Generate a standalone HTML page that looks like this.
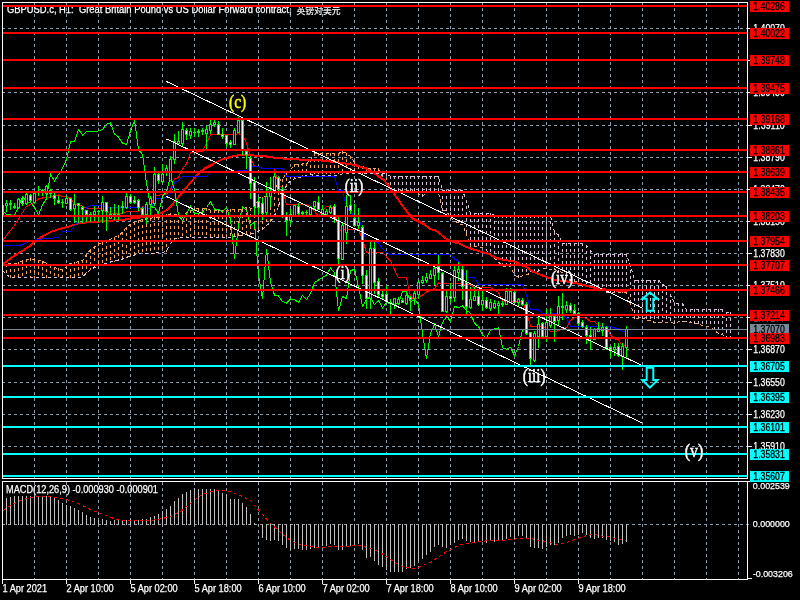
<!DOCTYPE html><html><head><meta charset="utf-8"><style>html,body{margin:0;padding:0;background:#000;width:800px;height:600px;overflow:hidden}svg{display:block}text{white-space:pre;font-family:"Liberation Sans","Noto Sans CJK SC",sans-serif}</style></head><body>
<svg width="800" height="600" viewBox="0 0 800 600">
<rect x="0" y="0" width="800" height="600" fill="#000"/>
<g stroke="#8a9bab" stroke-width="1" stroke-dasharray="3 3" shape-rendering="crispEdges" fill="none">
<line x1="34.5" y1="2" x2="34.5" y2="478"/>
<line x1="34.5" y1="482" x2="34.5" y2="579"/>
<line x1="66.5" y1="2" x2="66.5" y2="478"/>
<line x1="66.5" y1="482" x2="66.5" y2="579"/>
<line x1="98.5" y1="2" x2="98.5" y2="478"/>
<line x1="98.5" y1="482" x2="98.5" y2="579"/>
<line x1="130.5" y1="2" x2="130.5" y2="478"/>
<line x1="130.5" y1="482" x2="130.5" y2="579"/>
<line x1="162.5" y1="2" x2="162.5" y2="478"/>
<line x1="162.5" y1="482" x2="162.5" y2="579"/>
<line x1="194.5" y1="2" x2="194.5" y2="478"/>
<line x1="194.5" y1="482" x2="194.5" y2="579"/>
<line x1="226.5" y1="2" x2="226.5" y2="478"/>
<line x1="226.5" y1="482" x2="226.5" y2="579"/>
<line x1="258.5" y1="2" x2="258.5" y2="478"/>
<line x1="258.5" y1="482" x2="258.5" y2="579"/>
<line x1="290.5" y1="2" x2="290.5" y2="478"/>
<line x1="290.5" y1="482" x2="290.5" y2="579"/>
<line x1="322.5" y1="2" x2="322.5" y2="478"/>
<line x1="322.5" y1="482" x2="322.5" y2="579"/>
<line x1="354.5" y1="2" x2="354.5" y2="478"/>
<line x1="354.5" y1="482" x2="354.5" y2="579"/>
<line x1="386.5" y1="2" x2="386.5" y2="478"/>
<line x1="386.5" y1="482" x2="386.5" y2="579"/>
<line x1="418.5" y1="2" x2="418.5" y2="478"/>
<line x1="418.5" y1="482" x2="418.5" y2="579"/>
<line x1="450.5" y1="2" x2="450.5" y2="478"/>
<line x1="450.5" y1="482" x2="450.5" y2="579"/>
<line x1="482.5" y1="2" x2="482.5" y2="478"/>
<line x1="482.5" y1="482" x2="482.5" y2="579"/>
<line x1="514.5" y1="2" x2="514.5" y2="478"/>
<line x1="514.5" y1="482" x2="514.5" y2="579"/>
<line x1="546.5" y1="2" x2="546.5" y2="478"/>
<line x1="546.5" y1="482" x2="546.5" y2="579"/>
<line x1="578.5" y1="2" x2="578.5" y2="478"/>
<line x1="578.5" y1="482" x2="578.5" y2="579"/>
<line x1="610.5" y1="2" x2="610.5" y2="478"/>
<line x1="610.5" y1="482" x2="610.5" y2="579"/>
<line x1="642.5" y1="2" x2="642.5" y2="478"/>
<line x1="642.5" y1="482" x2="642.5" y2="579"/>
<line x1="674.5" y1="2" x2="674.5" y2="478"/>
<line x1="674.5" y1="482" x2="674.5" y2="579"/>
<line x1="706.5" y1="2" x2="706.5" y2="478"/>
<line x1="706.5" y1="482" x2="706.5" y2="579"/>
<line x1="738.5" y1="2" x2="738.5" y2="478"/>
<line x1="738.5" y1="482" x2="738.5" y2="579"/>
<line x1="2" y1="28.5" x2="751" y2="28.5"/>
<line x1="2" y1="60.5" x2="751" y2="60.5"/>
<line x1="2" y1="92.5" x2="751" y2="92.5"/>
<line x1="2" y1="125.5" x2="751" y2="125.5"/>
<line x1="2" y1="157.5" x2="751" y2="157.5"/>
<line x1="2" y1="189.5" x2="751" y2="189.5"/>
<line x1="2" y1="221.5" x2="751" y2="221.5"/>
<line x1="2" y1="253.5" x2="751" y2="253.5"/>
<line x1="2" y1="285.5" x2="751" y2="285.5"/>
<line x1="2" y1="317.5" x2="751" y2="317.5"/>
<line x1="2" y1="349.5" x2="751" y2="349.5"/>
<line x1="2" y1="382.5" x2="751" y2="382.5"/>
<line x1="2" y1="414.5" x2="751" y2="414.5"/>
<line x1="2" y1="446.5" x2="751" y2="446.5"/>
<line x1="2" y1="524.5" x2="751" y2="524.5"/>
</g>
<!--title under lines-->
<text x="7" y="13" fill="#fff" stroke="#fff" stroke-width="0.25" font-size="10.4px"><tspan textLength="284.5" lengthAdjust="spacingAndGlyphs">GBPUSD.c, H1:  Great Britain Pound vs US Dollar Forward contract,</tspan><tspan x="296.5" y="13.6" font-size="8.8px" stroke-width="0.15" textLength="44" lengthAdjust="spacingAndGlyphs">英镑对美元</tspan></text>
<g shape-rendering="crispEdges" stroke-width="1" stroke-dasharray="3 3" fill="none">
<line x1="2.5" y1="264" x2="2.5" y2="271" stroke="#f4a460"/>
<line x1="6.5" y1="264" x2="6.5" y2="275" stroke="#f4a460"/>
<line x1="10.5" y1="263" x2="10.5" y2="278" stroke="#f4a460"/>
<line x1="14.5" y1="263" x2="14.5" y2="278" stroke="#f4a460"/>
<line x1="18.5" y1="262" x2="18.5" y2="278" stroke="#f4a460"/>
<line x1="22.5" y1="261" x2="22.5" y2="278" stroke="#f4a460"/>
<line x1="26.5" y1="259" x2="26.5" y2="278" stroke="#f4a460"/>
<line x1="30.5" y1="258" x2="30.5" y2="278" stroke="#f4a460"/>
<line x1="34.5" y1="258" x2="34.5" y2="278" stroke="#f4a460"/>
<line x1="38.5" y1="260" x2="38.5" y2="278" stroke="#f4a460"/>
<line x1="42.5" y1="261" x2="42.5" y2="278" stroke="#f4a460"/>
<line x1="46.5" y1="263" x2="46.5" y2="278" stroke="#f4a460"/>
<line x1="50.5" y1="265" x2="50.5" y2="278" stroke="#f4a460"/>
<line x1="54.5" y1="267" x2="54.5" y2="278" stroke="#f4a460"/>
<line x1="58.5" y1="268" x2="58.5" y2="278" stroke="#f4a460"/>
<line x1="62.5" y1="269" x2="62.5" y2="278" stroke="#f4a460"/>
<line x1="66.5" y1="266" x2="66.5" y2="278" stroke="#f4a460"/>
<line x1="70.5" y1="263" x2="70.5" y2="278" stroke="#f4a460"/>
<line x1="74.5" y1="262" x2="74.5" y2="278" stroke="#f4a460"/>
<line x1="78.5" y1="261" x2="78.5" y2="278" stroke="#f4a460"/>
<line x1="82.5" y1="260" x2="82.5" y2="277" stroke="#f4a460"/>
<line x1="86.5" y1="254" x2="86.5" y2="273" stroke="#f4a460"/>
<line x1="90.5" y1="250" x2="90.5" y2="270" stroke="#f4a460"/>
<line x1="94.5" y1="246" x2="94.5" y2="268" stroke="#f4a460"/>
<line x1="98.5" y1="243" x2="98.5" y2="266" stroke="#f4a460"/>
<line x1="102.5" y1="242" x2="102.5" y2="265" stroke="#f4a460"/>
<line x1="106.5" y1="240" x2="106.5" y2="264" stroke="#f4a460"/>
<line x1="110.5" y1="239" x2="110.5" y2="263" stroke="#f4a460"/>
<line x1="114.5" y1="237" x2="114.5" y2="262" stroke="#f4a460"/>
<line x1="118.5" y1="235" x2="118.5" y2="261" stroke="#f4a460"/>
<line x1="122.5" y1="232" x2="122.5" y2="259" stroke="#f4a460"/>
<line x1="126.5" y1="227" x2="126.5" y2="258" stroke="#f4a460"/>
<line x1="130.5" y1="224" x2="130.5" y2="256" stroke="#f4a460"/>
<line x1="134.5" y1="222" x2="134.5" y2="256" stroke="#f4a460"/>
<line x1="138.5" y1="220" x2="138.5" y2="255" stroke="#f4a460"/>
<line x1="142.5" y1="219" x2="142.5" y2="254" stroke="#f4a460"/>
<line x1="146.5" y1="218" x2="146.5" y2="254" stroke="#f4a460"/>
<line x1="150.5" y1="218" x2="150.5" y2="254" stroke="#f4a460"/>
<line x1="154.5" y1="217" x2="154.5" y2="254" stroke="#f4a460"/>
<line x1="158.5" y1="217" x2="158.5" y2="253" stroke="#f4a460"/>
<line x1="162.5" y1="216" x2="162.5" y2="253" stroke="#f4a460"/>
<line x1="166.5" y1="214" x2="166.5" y2="252" stroke="#f4a460"/>
<line x1="170.5" y1="214" x2="170.5" y2="244" stroke="#f4a460"/>
<line x1="174.5" y1="214" x2="174.5" y2="240" stroke="#f4a460"/>
<line x1="178.5" y1="214" x2="178.5" y2="239" stroke="#f4a460"/>
<line x1="182.5" y1="215" x2="182.5" y2="238" stroke="#f4a460"/>
<line x1="186.5" y1="212" x2="186.5" y2="238" stroke="#f4a460"/>
<line x1="190.5" y1="210" x2="190.5" y2="238" stroke="#f4a460"/>
<line x1="194.5" y1="208" x2="194.5" y2="238" stroke="#f4a460"/>
<line x1="198.5" y1="208" x2="198.5" y2="238" stroke="#f4a460"/>
<line x1="202.5" y1="208" x2="202.5" y2="238" stroke="#f4a460"/>
<line x1="206.5" y1="208" x2="206.5" y2="238" stroke="#f4a460"/>
<line x1="210.5" y1="210" x2="210.5" y2="238" stroke="#f4a460"/>
<line x1="214.5" y1="210" x2="214.5" y2="238" stroke="#f4a460"/>
<line x1="218.5" y1="210" x2="218.5" y2="238" stroke="#f4a460"/>
<line x1="222.5" y1="210" x2="222.5" y2="238" stroke="#f4a460"/>
<line x1="226.5" y1="210" x2="226.5" y2="238" stroke="#f4a460"/>
<line x1="230.5" y1="209" x2="230.5" y2="238" stroke="#f4a460"/>
<line x1="234.5" y1="209" x2="234.5" y2="237" stroke="#f4a460"/>
<line x1="238.5" y1="209" x2="238.5" y2="237" stroke="#f4a460"/>
<line x1="242.5" y1="209" x2="242.5" y2="236" stroke="#f4a460"/>
<line x1="246.5" y1="207" x2="246.5" y2="235" stroke="#f4a460"/>
<line x1="250.5" y1="208" x2="250.5" y2="235" stroke="#f4a460"/>
<line x1="254.5" y1="209" x2="254.5" y2="233" stroke="#f4a460"/>
<line x1="258.5" y1="197" x2="258.5" y2="231" stroke="#f4a460"/>
<line x1="262.5" y1="197" x2="262.5" y2="229" stroke="#f4a460"/>
<line x1="266.5" y1="195" x2="266.5" y2="226" stroke="#f4a460"/>
<line x1="270.5" y1="195" x2="270.5" y2="223" stroke="#f4a460"/>
<line x1="274.5" y1="191" x2="274.5" y2="216" stroke="#f4a460"/>
<line x1="278.5" y1="180" x2="278.5" y2="208" stroke="#f4a460"/>
<line x1="282.5" y1="179" x2="282.5" y2="194" stroke="#f4a460"/>
<line x1="286.5" y1="172" x2="286.5" y2="186" stroke="#f4a460"/>
<line x1="290.5" y1="170" x2="290.5" y2="181" stroke="#f4a460"/>
<line x1="294.5" y1="164" x2="294.5" y2="179" stroke="#f4a460"/>
<line x1="298.5" y1="164" x2="298.5" y2="178" stroke="#f4a460"/>
<line x1="302.5" y1="163" x2="302.5" y2="177" stroke="#f4a460"/>
<line x1="306.5" y1="163" x2="306.5" y2="176" stroke="#f4a460"/>
<line x1="310.5" y1="159" x2="310.5" y2="175" stroke="#f4a460"/>
<line x1="314.5" y1="153" x2="314.5" y2="176" stroke="#f4a460"/>
<line x1="318.5" y1="153" x2="318.5" y2="176" stroke="#f4a460"/>
<line x1="322.5" y1="153" x2="322.5" y2="176" stroke="#f4a460"/>
<line x1="326.5" y1="153" x2="326.5" y2="176" stroke="#f4a460"/>
<line x1="330.5" y1="153" x2="330.5" y2="176" stroke="#f4a460"/>
<line x1="334.5" y1="153" x2="334.5" y2="176" stroke="#f4a460"/>
<line x1="338.5" y1="153" x2="338.5" y2="176" stroke="#f4a460"/>
<line x1="342.5" y1="151" x2="342.5" y2="174" stroke="#f4a460"/>
<line x1="346.5" y1="153" x2="346.5" y2="174" stroke="#f4a460"/>
<line x1="350.5" y1="156" x2="350.5" y2="174" stroke="#f4a460"/>
<line x1="354.5" y1="162" x2="354.5" y2="174" stroke="#f4a460"/>
<line x1="358.5" y1="166" x2="358.5" y2="174" stroke="#f4a460"/>
<line x1="362.5" y1="166" x2="362.5" y2="174" stroke="#f4a460"/>
<line x1="366.5" y1="168" x2="366.5" y2="174" stroke="#f4a460"/>
<line x1="370.5" y1="168" x2="370.5" y2="174" stroke="#f4a460"/>
<line x1="374.5" y1="168" x2="374.5" y2="174" stroke="#f4a460"/>
<line x1="378.5" y1="168" x2="378.5" y2="174" stroke="#f4a460"/>
<line x1="382.5" y1="173" x2="382.5" y2="177" stroke="#d8bfd8"/>
<line x1="386.5" y1="173" x2="386.5" y2="179" stroke="#d8bfd8"/>
<line x1="390.5" y1="176" x2="390.5" y2="191" stroke="#d8bfd8"/>
<line x1="394.5" y1="176" x2="394.5" y2="191" stroke="#d8bfd8"/>
<line x1="398.5" y1="176" x2="398.5" y2="191" stroke="#d8bfd8"/>
<line x1="402.5" y1="176" x2="402.5" y2="191" stroke="#d8bfd8"/>
<line x1="406.5" y1="176" x2="406.5" y2="191" stroke="#d8bfd8"/>
<line x1="410.5" y1="176" x2="410.5" y2="191" stroke="#d8bfd8"/>
<line x1="414.5" y1="176" x2="414.5" y2="192" stroke="#d8bfd8"/>
<line x1="418.5" y1="176" x2="418.5" y2="195" stroke="#d8bfd8"/>
<line x1="422.5" y1="176" x2="422.5" y2="197" stroke="#d8bfd8"/>
<line x1="426.5" y1="176" x2="426.5" y2="194" stroke="#d8bfd8"/>
<line x1="430.5" y1="176" x2="430.5" y2="192" stroke="#d8bfd8"/>
<line x1="434.5" y1="176" x2="434.5" y2="192" stroke="#d8bfd8"/>
<line x1="438.5" y1="176" x2="438.5" y2="193" stroke="#d8bfd8"/>
<line x1="442.5" y1="190" x2="442.5" y2="211" stroke="#d8bfd8"/>
<line x1="446.5" y1="190" x2="446.5" y2="211" stroke="#d8bfd8"/>
<line x1="450.5" y1="190" x2="450.5" y2="219" stroke="#d8bfd8"/>
<line x1="454.5" y1="190" x2="454.5" y2="220" stroke="#d8bfd8"/>
<line x1="458.5" y1="190" x2="458.5" y2="225" stroke="#d8bfd8"/>
<line x1="462.5" y1="190" x2="462.5" y2="225" stroke="#d8bfd8"/>
<line x1="466.5" y1="200" x2="466.5" y2="235" stroke="#d8bfd8"/>
<line x1="470.5" y1="213" x2="470.5" y2="247" stroke="#d8bfd8"/>
<line x1="474.5" y1="213" x2="474.5" y2="247" stroke="#d8bfd8"/>
<line x1="478.5" y1="213" x2="478.5" y2="247" stroke="#d8bfd8"/>
<line x1="482.5" y1="213" x2="482.5" y2="248" stroke="#d8bfd8"/>
<line x1="486.5" y1="213" x2="486.5" y2="251" stroke="#d8bfd8"/>
<line x1="490.5" y1="213" x2="490.5" y2="255" stroke="#d8bfd8"/>
<line x1="494.5" y1="215" x2="494.5" y2="258" stroke="#d8bfd8"/>
<line x1="498.5" y1="215" x2="498.5" y2="263" stroke="#d8bfd8"/>
<line x1="502.5" y1="215" x2="502.5" y2="267" stroke="#d8bfd8"/>
<line x1="506.5" y1="215" x2="506.5" y2="267" stroke="#d8bfd8"/>
<line x1="510.5" y1="215" x2="510.5" y2="267" stroke="#d8bfd8"/>
<line x1="514.5" y1="215" x2="514.5" y2="276" stroke="#d8bfd8"/>
<line x1="518.5" y1="215" x2="518.5" y2="278" stroke="#d8bfd8"/>
<line x1="522.5" y1="215" x2="522.5" y2="276" stroke="#d8bfd8"/>
<line x1="526.5" y1="215" x2="526.5" y2="275" stroke="#d8bfd8"/>
<line x1="530.5" y1="215" x2="530.5" y2="274" stroke="#d8bfd8"/>
<line x1="534.5" y1="215" x2="534.5" y2="273" stroke="#d8bfd8"/>
<line x1="538.5" y1="215" x2="538.5" y2="272" stroke="#d8bfd8"/>
<line x1="542.5" y1="215" x2="542.5" y2="269" stroke="#d8bfd8"/>
<line x1="546.5" y1="215" x2="546.5" y2="269" stroke="#d8bfd8"/>
<line x1="550.5" y1="215" x2="550.5" y2="270" stroke="#d8bfd8"/>
<line x1="554.5" y1="232" x2="554.5" y2="270" stroke="#d8bfd8"/>
<line x1="558.5" y1="234" x2="558.5" y2="272" stroke="#d8bfd8"/>
<line x1="562.5" y1="243" x2="562.5" y2="273" stroke="#d8bfd8"/>
<line x1="566.5" y1="243" x2="566.5" y2="277" stroke="#d8bfd8"/>
<line x1="570.5" y1="243" x2="570.5" y2="282" stroke="#d8bfd8"/>
<line x1="574.5" y1="243" x2="574.5" y2="282" stroke="#d8bfd8"/>
<line x1="578.5" y1="243" x2="578.5" y2="283" stroke="#d8bfd8"/>
<line x1="582.5" y1="243" x2="582.5" y2="287" stroke="#d8bfd8"/>
<line x1="586.5" y1="245" x2="586.5" y2="287" stroke="#d8bfd8"/>
<line x1="590.5" y1="250" x2="590.5" y2="287" stroke="#d8bfd8"/>
<line x1="594.5" y1="254" x2="594.5" y2="287" stroke="#d8bfd8"/>
<line x1="598.5" y1="254" x2="598.5" y2="288" stroke="#d8bfd8"/>
<line x1="602.5" y1="254" x2="602.5" y2="289" stroke="#d8bfd8"/>
<line x1="606.5" y1="254" x2="606.5" y2="293" stroke="#d8bfd8"/>
<line x1="610.5" y1="254" x2="610.5" y2="293" stroke="#d8bfd8"/>
<line x1="614.5" y1="254" x2="614.5" y2="293" stroke="#d8bfd8"/>
<line x1="618.5" y1="254" x2="618.5" y2="293" stroke="#d8bfd8"/>
<line x1="622.5" y1="254" x2="622.5" y2="293" stroke="#d8bfd8"/>
<line x1="626.5" y1="254" x2="626.5" y2="293" stroke="#d8bfd8"/>
<line x1="630.5" y1="264" x2="630.5" y2="304" stroke="#d8bfd8"/>
<line x1="634.5" y1="280" x2="634.5" y2="319" stroke="#d8bfd8"/>
<line x1="638.5" y1="280" x2="638.5" y2="319" stroke="#d8bfd8"/>
<line x1="642.5" y1="280" x2="642.5" y2="319" stroke="#d8bfd8"/>
<line x1="646.5" y1="280" x2="646.5" y2="320" stroke="#d8bfd8"/>
<line x1="650.5" y1="280" x2="650.5" y2="321" stroke="#d8bfd8"/>
<line x1="654.5" y1="280" x2="654.5" y2="323" stroke="#d8bfd8"/>
<line x1="658.5" y1="280" x2="658.5" y2="323" stroke="#d8bfd8"/>
<line x1="662.5" y1="284" x2="662.5" y2="322" stroke="#d8bfd8"/>
<line x1="666.5" y1="286" x2="666.5" y2="323" stroke="#d8bfd8"/>
<line x1="670.5" y1="294" x2="670.5" y2="323" stroke="#d8bfd8"/>
<line x1="674.5" y1="303" x2="674.5" y2="324" stroke="#d8bfd8"/>
<line x1="678.5" y1="303" x2="678.5" y2="322" stroke="#d8bfd8"/>
<line x1="682.5" y1="303" x2="682.5" y2="322" stroke="#d8bfd8"/>
<line x1="686.5" y1="309" x2="686.5" y2="322" stroke="#d8bfd8"/>
<line x1="690.5" y1="309" x2="690.5" y2="323" stroke="#d8bfd8"/>
<line x1="694.5" y1="309" x2="694.5" y2="324" stroke="#d8bfd8"/>
<line x1="698.5" y1="309" x2="698.5" y2="324" stroke="#d8bfd8"/>
<line x1="702.5" y1="309" x2="702.5" y2="326" stroke="#d8bfd8"/>
<line x1="706.5" y1="309" x2="706.5" y2="327" stroke="#d8bfd8"/>
<line x1="710.5" y1="309" x2="710.5" y2="327" stroke="#d8bfd8"/>
<line x1="714.5" y1="309" x2="714.5" y2="331" stroke="#d8bfd8"/>
<line x1="718.5" y1="309" x2="718.5" y2="334" stroke="#d8bfd8"/>
<line x1="722.5" y1="309" x2="722.5" y2="335" stroke="#d8bfd8"/>
<line x1="726.5" y1="312" x2="726.5" y2="339" stroke="#d8bfd8"/>
<line x1="730.5" y1="312" x2="730.5" y2="339" stroke="#d8bfd8"/>
</g>
<polyline points="2.5,264.5 6.5,264.1 10.5,263.8 14.5,263.6 18.5,262.5 22.5,261.0 26.5,259.6 30.5,259.0 34.5,259.0 38.5,260.2 42.5,261.6 46.5,263.3 50.5,265.9 54.5,267.6 58.5,268.8 62.5,269.4 66.5,266.5 70.5,263.3 74.5,262.5 78.5,261.6 82.5,260.6 86.5,254.0 90.5,250.0 94.5,246.6 98.5,243.9 102.5,242.1 106.5,240.6 110.5,239.1 114.5,237.2 118.5,235.7 122.5,232.3 126.5,227.4 130.5,224.2 134.5,222.2 138.5,220.7 142.5,219.6 146.5,218.8 150.5,218.2 154.5,217.8 158.5,217.3 162.5,216.2 166.5,214.5 170.5,214.0 174.5,214.5 178.5,215.0 182.5,215.5 186.5,213.0 190.5,210.7 194.5,208.7 198.5,208.7 202.5,208.7 206.5,208.7 210.5,210.1 214.5,210.6 218.5,210.6 222.5,210.6 226.5,210.6 230.5,209.9 234.5,209.9 238.5,209.9 242.5,209.9 246.5,207.2 250.5,208.2 254.5,209.2 258.5,197.2 262.5,197.2 266.5,195.7 270.5,195.7 274.5,191.7 278.5,180.7 282.5,179.3 286.5,172.7 290.5,170.2 294.5,164.7 298.5,164.4 302.5,163.9 306.5,163.9 310.5,159.6 314.5,153.6 318.5,153.4 322.5,153.4 326.5,153.4 330.5,153.4 334.5,153.4 338.5,153.4 342.5,151.9 346.5,153.2 350.5,156.6 354.5,162.2 358.5,166.5 362.5,166.5 366.5,168.5 370.5,168.5 374.5,168.5 378.5,168.6 382.5,176.9 386.5,178.2 390.5,190.6 394.5,190.6 398.5,190.6 402.5,190.6 406.5,190.6 410.5,190.6 414.5,191.4 418.5,194.1 422.5,196.2 426.5,193.4 430.5,191.5 434.5,191.5 438.5,192.9 442.5,210.4 446.5,210.5 450.5,218.6 454.5,219.9 458.5,224.2 462.5,224.2 466.5,234.2 470.5,246.8 474.5,246.8 478.5,246.8 482.5,247.6 486.5,250.3 490.5,254.5 494.5,257.8 498.5,262.0 502.5,266.2 506.5,266.2 510.5,266.2 514.5,275.1 518.5,277.4 522.5,275.8 526.5,274.8 530.5,273.2 534.5,272.5 538.5,271.5 542.5,268.7 546.5,268.9 550.5,269.2 554.5,269.2 558.5,271.4 562.5,272.5 566.5,276.7 570.5,281.1 574.5,281.1 578.5,282.9 582.5,286.1 586.5,286.1 590.5,286.1 594.5,286.1 598.5,287.1 602.5,288.6 606.5,292.8 610.5,292.8 614.5,292.9 618.5,292.9 622.5,292.9 626.5,292.9 630.5,303.1 634.5,318.1 638.5,318.1 642.5,318.1 646.5,319.8 650.5,320.7 654.5,322.4 658.5,322.6 662.5,321.9 666.5,322.2 670.5,322.7 674.5,323.2 678.5,321.9 682.5,321.9 686.5,321.9 690.5,322.3 694.5,323.8 698.5,323.8 702.5,325.9 706.5,326.4 710.5,326.6 714.5,330.6 718.5,333.4 722.5,334.4 726.5,338.6 730.5,338.6" fill="none" stroke="#f4a460" stroke-width="1" stroke-dasharray="3 3" shape-rendering="crispEdges"/>
<polyline points="2.5,270.5 6.5,274.8 10.5,277.1 14.5,277.2 18.5,277.3 22.5,277.5 26.5,277.6 30.5,277.7 34.5,277.7 38.5,277.7 42.5,277.7 46.5,277.7 50.5,277.7 54.5,277.7 58.5,277.7 62.5,277.7 66.5,277.7 70.5,277.7 74.5,277.7 78.5,277.7 82.5,276.7 86.5,273.0 90.5,269.5 94.5,267.5 98.5,265.8 102.5,264.5 106.5,263.2 110.5,262.0 114.5,261.2 118.5,260.1 122.5,259.0 126.5,257.4 130.5,255.9 134.5,255.0 138.5,254.1 142.5,253.6 146.5,253.4 150.5,253.2 154.5,253.0 158.5,252.8 162.5,252.5 166.5,251.1 170.5,243.5 174.5,239.2 178.5,238.2 182.5,237.2 186.5,237.2 190.5,237.2 194.5,237.3 198.5,237.3 202.5,237.3 206.5,237.3 210.5,237.4 214.5,237.4 218.5,237.4 222.5,237.4 226.5,237.5 230.5,237.5 234.5,236.8 238.5,236.1 242.5,235.4 246.5,234.7 250.5,234.0 254.5,233.0 258.5,231.0 262.5,229.0 266.5,225.7 270.5,222.1 274.5,215.6 278.5,207.2 282.5,193.8 286.5,185.5 290.5,180.8 294.5,178.6 298.5,177.7 302.5,176.7 306.5,175.6 310.5,174.5 314.5,175.5 318.5,175.3 322.5,175.3 326.5,175.3 330.5,175.3 334.5,175.3 338.5,175.3 342.5,173.8 346.5,173.8 350.5,173.8 354.5,173.8 358.5,173.8 362.5,173.8 366.5,173.8 370.5,173.8 374.5,173.8 378.5,173.8 382.5,173.8 386.5,173.8 390.5,176.5 394.5,176.5 398.5,176.5 402.5,176.5 406.5,176.5 410.5,176.5 414.5,176.5 418.5,176.5 422.5,176.5 426.5,176.5 430.5,176.5 434.5,176.5 438.5,176.5 442.5,190.7 446.5,190.7 450.5,190.7 454.5,190.7 458.5,190.7 462.5,190.7 466.5,200.7 470.5,213.2 474.5,213.2 478.5,213.2 482.5,213.2 486.5,213.2 490.5,213.2 494.5,215.5 498.5,215.5 502.5,215.5 506.5,215.5 510.5,215.5 514.5,215.5 518.5,215.5 522.5,215.5 526.5,215.5 530.5,215.5 534.5,215.5 538.5,215.5 542.5,215.5 546.5,215.5 550.5,215.8 554.5,232.4 558.5,235.0 562.5,243.7 566.5,243.7 570.5,243.7 574.5,243.7 578.5,243.7 582.5,243.7 586.5,245.2 590.5,250.7 594.5,254.5 598.5,254.5 602.5,254.8 606.5,254.8 610.5,254.8 614.5,254.8 618.5,254.8 622.5,254.8 626.5,254.8 630.5,265.0 634.5,280.0 638.5,280.0 642.5,280.0 646.5,280.0 650.5,280.0 654.5,280.0 658.5,280.0 662.5,284.5 666.5,286.6 670.5,295.0 674.5,303.4 678.5,303.4 682.5,303.4 686.5,309.9 690.5,309.9 694.5,309.9 698.5,309.9 702.5,309.9 706.5,309.9 710.5,309.9 714.5,309.9 718.5,309.9 722.5,309.9 726.5,312.2 730.5,312.2" fill="none" stroke="#d8bfd8" stroke-width="1" stroke-dasharray="3 3" shape-rendering="crispEdges"/>
<polyline points="3.5,263.5 13.0,256.5 23.0,250.5 30.5,245.5 36.5,239.9 44.2,235.5 53.0,231.1 63.0,228.0 70.5,226.1 78.0,223.5 85.5,222.4 98.8,222.2 100.5,221.3 107.2,220.9 124.5,219.7 130.5,218.5 140.5,217.5 150.5,216.5 156.5,215.0 162.5,212.5 167.5,209.5 171.5,205.5 175.5,200.5 180.5,194.5 185.5,188.5 190.5,182.5 195.5,176.5 200.5,171.5 205.5,168.0 210.5,165.5 215.0,163.0 223.1,159.1 232.2,156.4 240.5,155.0 252.2,155.3 255.5,155.8 266.3,156.4 268.5,157.1 283.2,158.5 291.2,159.2 307.2,159.8 320.5,160.5 330.5,161.5 350.5,164.2 356.5,165.5 366.5,168.5 374.5,173.5 384.5,180.5 394.5,194.5 404.5,208.5 412.5,218.5 424.5,224.5 430.5,229.2 435.5,230.5 440.5,234.2 446.8,239.2 453.0,241.8 459.2,243.5 464.2,246.1 470.5,248.5 476.8,250.5 483.0,252.5 489.2,254.2 495.5,257.5 500.5,259.2 508.0,260.5 515.5,261.8 520.5,264.8 526.5,267.0 532.5,271.5 540.0,274.5 547.5,277.5 555.0,279.8 565.5,281.2 573.0,282.8 580.5,284.2 586.5,285.8 595.5,288.0 604.5,289.5 612.0,290.2 627.5,291.5" fill="none" stroke="#ff0000" stroke-width="2" shape-rendering="crispEdges"/>
<polyline points="2.5,240.5 6.5,235.5 10.5,230.5 14.5,225.2 18.5,219.2 22.5,212.5 26.5,206.5 30.5,204.5 34.5,202.0 38.5,199.0 42.5,198.0 46.5,197.0 50.5,197.0 54.5,195.5 58.5,195.0 62.5,196.5 66.5,196.5 70.5,198.0 74.5,204.2 78.5,204.2 82.5,206.2 86.5,208.2 90.5,208.8 94.5,208.8 98.5,208.8 102.5,208.8 106.5,212.3 110.5,213.3 114.5,213.3 118.5,213.3 122.5,213.3 126.5,211.9 130.5,211.9 134.5,211.9 138.5,211.9 142.5,206.5 146.5,208.7 150.5,208.7 154.5,195.5 158.5,195.5 162.5,194.0 166.5,194.0 170.5,190.0 174.5,179.0 178.5,177.6 182.5,169.0 186.5,164.0 190.5,153.0 194.5,152.5 198.5,151.5 202.5,151.5 206.5,142.8 210.5,135.0 214.5,134.8 218.5,134.8 222.5,134.8 226.5,134.8 230.5,134.8 234.5,134.8 238.5,133.3 242.5,136.0 246.5,142.8 250.5,158.0 254.5,166.5 258.5,166.5 262.5,168.5 266.5,168.5 270.5,168.5 274.5,168.8 278.5,185.4 282.5,188.0 286.5,204.7 290.5,204.7 294.5,204.7 298.5,204.7 302.5,204.7 306.5,204.7 310.5,206.2 314.5,211.7 318.5,216.0 322.5,210.4 326.5,206.5 330.5,206.5 334.5,209.3 338.5,230.2 342.5,230.2 346.5,229.7 350.5,229.7 354.5,229.7 358.5,229.7 362.5,239.7 366.5,252.2 370.5,252.2 374.5,252.2 378.5,252.2 382.5,252.2 386.5,256.8 390.5,261.1 394.5,269.5 398.5,277.9 402.5,277.9 406.5,277.9 410.5,295.8 414.5,300.2 418.5,297.0 422.5,295.0 426.5,292.0 430.5,290.5 434.5,288.5 438.5,282.9 442.5,283.4 446.5,283.9 450.5,283.9 454.5,283.9 458.5,283.9 462.5,283.9 466.5,284.4 470.5,284.4 474.5,287.9 478.5,287.9 482.5,287.9 486.5,287.9 490.5,287.9 494.5,289.9 498.5,292.5 502.5,301.0 506.5,301.0 510.5,301.1 514.5,301.1 518.5,301.1 522.5,301.1 526.5,311.2 530.5,326.2 534.5,326.2 538.5,326.2 542.5,326.2 546.5,328.0 550.5,331.5 554.5,331.8 558.5,330.5 562.5,329.0 566.5,327.6 570.5,320.4 574.5,317.6 578.5,317.6 582.5,317.6 586.5,318.4 590.5,321.4 594.5,321.4 598.5,325.5 602.5,326.5 606.5,326.9 610.5,334.9 614.5,338.9 618.5,339.9 622.5,345.9 626.5,345.9" fill="none" stroke="#ff0000" stroke-width="1" shape-rendering="crispEdges"/>
<polyline points="2.5,245.5 6.5,245.5 10.5,245.5 14.5,245.5 18.5,245.5 22.5,244.5 26.5,242.5 30.5,241.3 34.5,240.1 38.5,239.3 42.5,239.0 46.5,238.6 50.5,238.2 54.5,237.9 58.5,237.5 62.5,231.5 66.5,231.5 70.5,231.5 74.5,225.5 78.5,220.7 82.5,216.6 86.5,207.7 90.5,205.1 94.5,205.1 98.5,205.1 102.5,205.2 106.5,207.8 110.5,207.8 114.5,207.8 118.5,207.8 122.5,207.8 126.5,207.8 130.5,207.8 134.5,207.8 138.5,207.8 142.5,207.8 146.5,207.8 150.5,209.8 154.5,198.8 158.5,198.8 162.5,197.3 166.5,197.3 170.5,193.3 174.5,182.3 178.5,180.9 182.5,176.3 186.5,176.3 190.5,176.3 194.5,176.3 198.5,176.3 202.5,176.3 206.5,176.3 210.5,172.2 214.5,172.0 218.5,172.0 222.5,172.0 226.5,172.0 230.5,172.0 234.5,172.0 238.5,170.5 242.5,170.5 246.5,170.5 250.5,166.5 254.5,166.5 258.5,166.5 262.5,168.5 266.5,168.5 270.5,168.5 274.5,168.5 278.5,168.5 282.5,168.5 286.5,176.5 290.5,176.5 294.5,176.5 298.5,176.5 302.5,176.5 306.5,176.5 310.5,176.5 314.5,176.5 318.5,176.5 322.5,176.5 326.5,176.5 330.5,176.5 334.5,176.5 338.5,190.7 342.5,190.9 346.5,207.6 350.5,210.2 354.5,218.8 358.5,218.8 362.5,228.8 366.5,241.4 370.5,241.4 374.5,241.4 378.5,243.0 382.5,248.4 386.5,252.2 390.5,254.5 394.5,254.5 398.5,254.5 402.5,254.5 406.5,254.5 410.5,254.5 414.5,254.5 418.5,254.5 422.5,254.5 426.5,254.5 430.5,254.5 434.5,254.5 438.5,254.5 442.5,254.5 446.5,254.5 450.5,254.5 454.5,259.0 458.5,261.1 462.5,269.5 466.5,277.9 470.5,277.9 474.5,277.9 478.5,284.4 482.5,284.4 486.5,284.4 490.5,284.4 494.5,284.4 498.5,284.6 502.5,284.6 506.5,284.6 510.5,284.6 514.5,284.6 518.5,284.6 522.5,284.6 526.5,294.9 530.5,309.9 534.5,309.9 538.5,309.9 542.5,313.4 546.5,313.4 550.5,313.4 554.5,313.4 558.5,313.4 562.5,315.4 566.5,317.7 570.5,326.1 574.5,326.1 578.5,326.2 582.5,326.2 586.5,326.2 590.5,326.2 594.5,326.2 598.5,326.2 602.5,326.2 606.5,326.2 610.5,326.2 614.5,328.0 618.5,329.0 622.5,331.4 626.5,331.4" fill="none" stroke="#0000ff" stroke-width="1" shape-rendering="crispEdges"/>
<polyline points="2.5,211.3 6.5,214.2 10.5,215.0 14.5,215.0 18.5,206.5 22.5,196.5 26.5,202.0 30.5,202.0 34.5,207.5 38.5,215.0 42.5,205.0 46.5,198.5 50.5,174.0 54.5,181.0 58.5,174.5 62.5,168.5 66.5,159.5 70.5,141.5 74.5,141.5 78.5,129.5 82.5,135.0 86.5,131.8 90.5,132.0 94.5,131.5 98.5,131.0 102.5,129.5 106.5,124.2 110.5,123.0 114.5,134.2 118.5,136.9 122.5,143.4 126.5,144.5 130.5,130.9 134.5,120.5 138.5,149.5 142.5,154.5 146.5,183.5 150.5,206.5 154.5,207.5 158.5,213.2 162.5,196.5 166.5,191.5 170.5,176.5 174.5,189.5 178.5,215.5 182.5,220.5 186.5,214.2 190.5,205.9 194.5,213.5 198.5,213.5 202.5,212.0 206.5,207.5 210.5,201.5 214.5,209.2 218.5,209.5 222.5,211.5 226.5,207.5 230.5,218.8 234.5,258.8 238.5,225.5 242.5,206.3 246.5,210.5 250.5,225.5 254.5,222.2 258.5,275.5 262.5,298.5 266.5,248.8 270.5,282.0 274.5,295.0 278.5,296.0 282.5,301.5 286.5,303.0 290.5,299.0 294.5,299.5 298.5,302.5 302.5,295.5 306.5,299.5 310.5,293.5 314.5,282.5 318.5,280.0 322.5,277.5 326.5,275.0 330.5,268.0 334.5,272.5 338.5,311.2 342.5,296.5 346.5,298.5 350.5,270.9 354.5,269.2 358.5,286.7 362.5,306.5 366.5,299.5 370.5,296.5 374.5,304.8 378.5,300.7 382.5,307.7 386.5,302.5 390.5,303.5 394.5,303.5 398.5,304.0 402.5,291.5 406.5,291.5 410.5,302.0 414.5,299.5 418.5,304.3 422.5,333.8 426.5,358.5 430.5,333.2 434.5,324.5 438.5,336.5 442.5,322.5 446.5,316.5 450.5,321.2 454.5,306.5 458.5,307.5 462.5,305.8 466.5,310.5 470.5,313.2 474.5,323.2 478.5,326.5 482.5,335.2 486.5,337.8 490.5,329.8 494.5,329.0 498.5,327.8 502.5,347.8 506.5,349.2 510.5,347.2 514.5,355.8 518.5,346.5 522.5,329.9" fill="none" stroke="#00ff00" stroke-width="1" shape-rendering="crispEdges"/>
<g shape-rendering="crispEdges">
<rect x="3" y="205" width="1" height="10" fill="#00ff00"/>
<rect x="6" y="200" width="1" height="12" fill="#00ff00"/>
<rect x="5" y="203" width="3" height="3" fill="#00ff00"/>
<rect x="6" y="204" width="1" height="1" fill="#000000"/>
<rect x="10" y="200" width="1" height="10" fill="#00ff00"/>
<rect x="9" y="203" width="3" height="2" fill="#00ff00"/>
<rect x="14" y="203" width="1" height="6" fill="#00ff00"/>
<rect x="13" y="206" width="3" height="2" fill="#00ff00"/>
<rect x="18" y="198" width="1" height="11" fill="#00ff00"/>
<rect x="17" y="199" width="3" height="9" fill="#00ff00"/>
<rect x="18" y="200" width="1" height="7" fill="#000000"/>
<rect x="22" y="196" width="1" height="10" fill="#00ff00"/>
<rect x="21" y="200" width="3" height="4" fill="#00ff00"/>
<rect x="22" y="201" width="1" height="2" fill="#ffffff"/>
<rect x="26" y="193" width="1" height="12" fill="#00ff00"/>
<rect x="25" y="194" width="3" height="10" fill="#00ff00"/>
<rect x="26" y="195" width="1" height="8" fill="#000000"/>
<rect x="30" y="194" width="1" height="9" fill="#00ff00"/>
<rect x="29" y="195" width="3" height="6" fill="#00ff00"/>
<rect x="30" y="196" width="1" height="4" fill="#ffffff"/>
<rect x="34" y="193" width="1" height="11" fill="#00ff00"/>
<rect x="33" y="193" width="3" height="10" fill="#00ff00"/>
<rect x="34" y="194" width="1" height="8" fill="#000000"/>
<rect x="38" y="186" width="1" height="10" fill="#00ff00"/>
<rect x="37" y="191" width="3" height="2" fill="#00ff00"/>
<rect x="42" y="189" width="1" height="7" fill="#00ff00"/>
<rect x="41" y="190" width="3" height="2" fill="#00ff00"/>
<rect x="46" y="185" width="1" height="15" fill="#00ff00"/>
<rect x="45" y="186" width="3" height="8" fill="#00ff00"/>
<rect x="46" y="187" width="1" height="6" fill="#000000"/>
<rect x="50" y="189" width="1" height="9" fill="#00ff00"/>
<rect x="49" y="190" width="3" height="4" fill="#00ff00"/>
<rect x="50" y="191" width="1" height="2" fill="#ffffff"/>
<rect x="54" y="193" width="1" height="12" fill="#00ff00"/>
<rect x="53" y="195" width="3" height="4" fill="#00ff00"/>
<rect x="54" y="196" width="1" height="2" fill="#ffffff"/>
<rect x="58" y="196" width="1" height="8" fill="#00ff00"/>
<rect x="57" y="200" width="3" height="3" fill="#00ff00"/>
<rect x="58" y="201" width="1" height="1" fill="#ffffff"/>
<rect x="62" y="199" width="1" height="9" fill="#00ff00"/>
<rect x="61" y="202" width="3" height="1" fill="#00ff00"/>
<rect x="66" y="196" width="1" height="8" fill="#00ff00"/>
<rect x="65" y="198" width="3" height="6" fill="#00ff00"/>
<rect x="66" y="199" width="1" height="4" fill="#000000"/>
<rect x="70" y="198" width="1" height="13" fill="#00ff00"/>
<rect x="69" y="198" width="3" height="12" fill="#00ff00"/>
<rect x="70" y="199" width="1" height="10" fill="#ffffff"/>
<rect x="74" y="194" width="1" height="29" fill="#00ff00"/>
<rect x="73" y="204" width="3" height="5" fill="#00ff00"/>
<rect x="74" y="205" width="1" height="3" fill="#000000"/>
<rect x="78" y="203" width="1" height="20" fill="#00ff00"/>
<rect x="77" y="203" width="3" height="3" fill="#00ff00"/>
<rect x="78" y="204" width="1" height="1" fill="#ffffff"/>
<rect x="82" y="206" width="1" height="17" fill="#00ff00"/>
<rect x="81" y="207" width="3" height="3" fill="#00ff00"/>
<rect x="82" y="208" width="1" height="1" fill="#ffffff"/>
<rect x="86" y="210" width="1" height="12" fill="#00ff00"/>
<rect x="85" y="210" width="3" height="5" fill="#00ff00"/>
<rect x="86" y="211" width="1" height="3" fill="#ffffff"/>
<rect x="90" y="212" width="1" height="10" fill="#00ff00"/>
<rect x="89" y="214" width="3" height="1" fill="#00ff00"/>
<rect x="94" y="206" width="1" height="15" fill="#00ff00"/>
<rect x="93" y="211" width="3" height="4" fill="#00ff00"/>
<rect x="94" y="212" width="1" height="2" fill="#000000"/>
<rect x="98" y="210" width="1" height="12" fill="#00ff00"/>
<rect x="97" y="211" width="3" height="1" fill="#00ff00"/>
<rect x="102" y="196" width="1" height="27" fill="#00ff00"/>
<rect x="101" y="202" width="3" height="9" fill="#00ff00"/>
<rect x="102" y="203" width="1" height="7" fill="#000000"/>
<rect x="106" y="202" width="1" height="29" fill="#00ff00"/>
<rect x="105" y="202" width="3" height="10" fill="#00ff00"/>
<rect x="106" y="203" width="1" height="8" fill="#ffffff"/>
<rect x="110" y="207" width="1" height="12" fill="#00ff00"/>
<rect x="109" y="214" width="3" height="5" fill="#00ff00"/>
<rect x="110" y="215" width="1" height="3" fill="#000000"/>
<rect x="114" y="204" width="1" height="16" fill="#00ff00"/>
<rect x="113" y="214" width="3" height="1" fill="#00ff00"/>
<rect x="118" y="205" width="1" height="15" fill="#00ff00"/>
<rect x="117" y="214" width="3" height="1" fill="#00ff00"/>
<rect x="122" y="201" width="1" height="13" fill="#00ff00"/>
<rect x="121" y="206" width="3" height="2" fill="#00ff00"/>
<rect x="126" y="193" width="1" height="16" fill="#00ff00"/>
<rect x="125" y="196" width="3" height="12" fill="#00ff00"/>
<rect x="126" y="197" width="1" height="10" fill="#000000"/>
<rect x="130" y="194" width="1" height="10" fill="#00ff00"/>
<rect x="129" y="196" width="3" height="7" fill="#00ff00"/>
<rect x="130" y="197" width="1" height="5" fill="#ffffff"/>
<rect x="134" y="196" width="1" height="8" fill="#00ff00"/>
<rect x="133" y="200" width="3" height="3" fill="#00ff00"/>
<rect x="134" y="201" width="1" height="1" fill="#ffffff"/>
<rect x="138" y="199" width="1" height="12" fill="#00ff00"/>
<rect x="137" y="200" width="3" height="8" fill="#00ff00"/>
<rect x="138" y="201" width="1" height="6" fill="#ffffff"/>
<rect x="142" y="207" width="1" height="10" fill="#00ff00"/>
<rect x="141" y="208" width="3" height="7" fill="#00ff00"/>
<rect x="142" y="209" width="1" height="5" fill="#ffffff"/>
<rect x="146" y="202" width="1" height="22" fill="#00ff00"/>
<rect x="145" y="204" width="3" height="11" fill="#00ff00"/>
<rect x="146" y="205" width="1" height="9" fill="#000000"/>
<rect x="150" y="196" width="1" height="20" fill="#00ff00"/>
<rect x="149" y="198" width="3" height="7" fill="#00ff00"/>
<rect x="150" y="199" width="1" height="5" fill="#000000"/>
<rect x="154" y="167" width="1" height="39" fill="#00ff00"/>
<rect x="153" y="174" width="3" height="30" fill="#00ff00"/>
<rect x="154" y="175" width="1" height="28" fill="#000000"/>
<rect x="158" y="172" width="1" height="12" fill="#00ff00"/>
<rect x="157" y="174" width="3" height="7" fill="#00ff00"/>
<rect x="158" y="175" width="1" height="5" fill="#ffffff"/>
<rect x="162" y="164" width="1" height="19" fill="#00ff00"/>
<rect x="161" y="174" width="3" height="8" fill="#00ff00"/>
<rect x="162" y="175" width="1" height="6" fill="#000000"/>
<rect x="166" y="165" width="1" height="11" fill="#00ff00"/>
<rect x="165" y="168" width="3" height="5" fill="#00ff00"/>
<rect x="166" y="169" width="1" height="3" fill="#000000"/>
<rect x="170" y="156" width="1" height="25" fill="#00ff00"/>
<rect x="169" y="159" width="3" height="22" fill="#00ff00"/>
<rect x="170" y="160" width="1" height="20" fill="#000000"/>
<rect x="174" y="134" width="1" height="30" fill="#00ff00"/>
<rect x="173" y="141" width="3" height="19" fill="#00ff00"/>
<rect x="174" y="142" width="1" height="17" fill="#000000"/>
<rect x="178" y="131" width="1" height="14" fill="#00ff00"/>
<rect x="177" y="141" width="3" height="3" fill="#00ff00"/>
<rect x="178" y="142" width="1" height="1" fill="#000000"/>
<rect x="182" y="122" width="1" height="25" fill="#00ff00"/>
<rect x="181" y="129" width="3" height="15" fill="#00ff00"/>
<rect x="182" y="130" width="1" height="13" fill="#000000"/>
<rect x="186" y="128" width="1" height="12" fill="#00ff00"/>
<rect x="185" y="130" width="3" height="5" fill="#00ff00"/>
<rect x="186" y="131" width="1" height="3" fill="#ffffff"/>
<rect x="190" y="128" width="1" height="11" fill="#00ff00"/>
<rect x="189" y="131" width="3" height="5" fill="#00ff00"/>
<rect x="190" y="132" width="1" height="3" fill="#000000"/>
<rect x="194" y="128" width="1" height="9" fill="#00ff00"/>
<rect x="193" y="132" width="3" height="1" fill="#00ff00"/>
<rect x="198" y="129" width="1" height="8" fill="#00ff00"/>
<rect x="197" y="131" width="3" height="2" fill="#00ff00"/>
<rect x="202" y="128" width="1" height="7" fill="#00ff00"/>
<rect x="201" y="130" width="3" height="2" fill="#00ff00"/>
<rect x="206" y="126" width="1" height="24" fill="#00ff00"/>
<rect x="205" y="129" width="3" height="5" fill="#00ff00"/>
<rect x="206" y="130" width="1" height="3" fill="#000000"/>
<rect x="210" y="120" width="1" height="14" fill="#00ff00"/>
<rect x="209" y="124" width="3" height="7" fill="#00ff00"/>
<rect x="210" y="125" width="1" height="5" fill="#000000"/>
<rect x="214" y="120" width="1" height="7" fill="#00ff00"/>
<rect x="213" y="122" width="3" height="3" fill="#00ff00"/>
<rect x="214" y="123" width="1" height="1" fill="#000000"/>
<rect x="218" y="121" width="1" height="14" fill="#00ff00"/>
<rect x="217" y="124" width="3" height="11" fill="#00ff00"/>
<rect x="218" y="125" width="1" height="9" fill="#ffffff"/>
<rect x="222" y="128" width="1" height="11" fill="#00ff00"/>
<rect x="221" y="134" width="3" height="3" fill="#00ff00"/>
<rect x="222" y="135" width="1" height="1" fill="#ffffff"/>
<rect x="226" y="135" width="1" height="12" fill="#00ff00"/>
<rect x="225" y="135" width="3" height="9" fill="#00ff00"/>
<rect x="226" y="136" width="1" height="7" fill="#ffffff"/>
<rect x="230" y="140" width="1" height="8" fill="#00ff00"/>
<rect x="229" y="142" width="3" height="3" fill="#00ff00"/>
<rect x="230" y="143" width="1" height="1" fill="#ffffff"/>
<rect x="234" y="128" width="1" height="17" fill="#00ff00"/>
<rect x="233" y="130" width="3" height="15" fill="#00ff00"/>
<rect x="234" y="131" width="1" height="13" fill="#000000"/>
<rect x="238" y="117" width="1" height="16" fill="#00ff00"/>
<rect x="237" y="120" width="3" height="13" fill="#00ff00"/>
<rect x="238" y="121" width="1" height="11" fill="#000000"/>
<rect x="242" y="118" width="1" height="37" fill="#00ff00"/>
<rect x="241" y="120" width="3" height="30" fill="#00ff00"/>
<rect x="242" y="121" width="1" height="28" fill="#ffffff"/>
<rect x="246" y="151" width="1" height="18" fill="#00ff00"/>
<rect x="245" y="151" width="3" height="4" fill="#00ff00"/>
<rect x="246" y="152" width="1" height="2" fill="#ffffff"/>
<rect x="250" y="156" width="1" height="43" fill="#00ff00"/>
<rect x="249" y="158" width="3" height="26" fill="#00ff00"/>
<rect x="250" y="159" width="1" height="24" fill="#ffffff"/>
<rect x="254" y="177" width="1" height="39" fill="#00ff00"/>
<rect x="253" y="182" width="3" height="25" fill="#00ff00"/>
<rect x="254" y="183" width="1" height="23" fill="#ffffff"/>
<rect x="258" y="197" width="1" height="17" fill="#00ff00"/>
<rect x="257" y="201" width="3" height="7" fill="#00ff00"/>
<rect x="258" y="202" width="1" height="5" fill="#ffffff"/>
<rect x="262" y="198" width="1" height="22" fill="#00ff00"/>
<rect x="261" y="203" width="3" height="11" fill="#00ff00"/>
<rect x="262" y="204" width="1" height="9" fill="#ffffff"/>
<rect x="266" y="182" width="1" height="33" fill="#00ff00"/>
<rect x="265" y="196" width="3" height="17" fill="#00ff00"/>
<rect x="266" y="197" width="1" height="15" fill="#000000"/>
<rect x="270" y="177" width="1" height="30" fill="#00ff00"/>
<rect x="269" y="191" width="3" height="6" fill="#00ff00"/>
<rect x="270" y="192" width="1" height="4" fill="#000000"/>
<rect x="274" y="173" width="1" height="19" fill="#00ff00"/>
<rect x="273" y="176" width="3" height="15" fill="#00ff00"/>
<rect x="274" y="177" width="1" height="13" fill="#000000"/>
<rect x="278" y="176" width="1" height="15" fill="#00ff00"/>
<rect x="277" y="177" width="3" height="13" fill="#00ff00"/>
<rect x="278" y="178" width="1" height="11" fill="#ffffff"/>
<rect x="282" y="187" width="1" height="31" fill="#00ff00"/>
<rect x="281" y="189" width="3" height="27" fill="#00ff00"/>
<rect x="282" y="190" width="1" height="25" fill="#ffffff"/>
<rect x="286" y="212" width="1" height="24" fill="#00ff00"/>
<rect x="285" y="216" width="3" height="5" fill="#00ff00"/>
<rect x="286" y="217" width="1" height="3" fill="#ffffff"/>
<rect x="290" y="209" width="1" height="16" fill="#00ff00"/>
<rect x="289" y="214" width="3" height="7" fill="#00ff00"/>
<rect x="290" y="215" width="1" height="5" fill="#000000"/>
<rect x="294" y="205" width="1" height="11" fill="#00ff00"/>
<rect x="293" y="205" width="3" height="11" fill="#00ff00"/>
<rect x="294" y="206" width="1" height="9" fill="#000000"/>
<rect x="298" y="203" width="1" height="13" fill="#00ff00"/>
<rect x="297" y="206" width="3" height="8" fill="#00ff00"/>
<rect x="298" y="207" width="1" height="6" fill="#ffffff"/>
<rect x="302" y="211" width="1" height="5" fill="#00ff00"/>
<rect x="301" y="212" width="3" height="2" fill="#00ff00"/>
<rect x="306" y="210" width="1" height="7" fill="#00ff00"/>
<rect x="305" y="212" width="3" height="1" fill="#00ff00"/>
<rect x="310" y="206" width="1" height="10" fill="#00ff00"/>
<rect x="309" y="207" width="3" height="8" fill="#00ff00"/>
<rect x="310" y="208" width="1" height="6" fill="#000000"/>
<rect x="314" y="201" width="1" height="9" fill="#00ff00"/>
<rect x="313" y="201" width="3" height="6" fill="#00ff00"/>
<rect x="314" y="202" width="1" height="4" fill="#000000"/>
<rect x="318" y="196" width="1" height="14" fill="#00ff00"/>
<rect x="317" y="202" width="3" height="8" fill="#00ff00"/>
<rect x="318" y="203" width="1" height="6" fill="#ffffff"/>
<rect x="322" y="205" width="1" height="11" fill="#00ff00"/>
<rect x="321" y="209" width="3" height="6" fill="#00ff00"/>
<rect x="322" y="210" width="1" height="4" fill="#000000"/>
<rect x="326" y="209" width="1" height="7" fill="#00ff00"/>
<rect x="325" y="211" width="3" height="4" fill="#00ff00"/>
<rect x="326" y="212" width="1" height="2" fill="#000000"/>
<rect x="330" y="205" width="1" height="9" fill="#00ff00"/>
<rect x="329" y="207" width="3" height="6" fill="#00ff00"/>
<rect x="330" y="208" width="1" height="4" fill="#000000"/>
<rect x="334" y="204" width="1" height="19" fill="#00ff00"/>
<rect x="333" y="206" width="3" height="13" fill="#00ff00"/>
<rect x="334" y="207" width="1" height="11" fill="#ffffff"/>
<rect x="338" y="217" width="1" height="47" fill="#00ff00"/>
<rect x="337" y="220" width="3" height="39" fill="#00ff00"/>
<rect x="338" y="221" width="1" height="37" fill="#ffffff"/>
<rect x="342" y="222" width="1" height="38" fill="#00ff00"/>
<rect x="341" y="225" width="3" height="35" fill="#00ff00"/>
<rect x="342" y="226" width="1" height="33" fill="#000000"/>
<rect x="346" y="195" width="1" height="49" fill="#00ff00"/>
<rect x="345" y="206" width="3" height="27" fill="#00ff00"/>
<rect x="346" y="207" width="1" height="25" fill="#000000"/>
<rect x="350" y="195" width="1" height="19" fill="#00ff00"/>
<rect x="349" y="205" width="3" height="6" fill="#00ff00"/>
<rect x="350" y="206" width="1" height="4" fill="#ffffff"/>
<rect x="354" y="204" width="1" height="22" fill="#00ff00"/>
<rect x="353" y="218" width="3" height="8" fill="#00ff00"/>
<rect x="354" y="219" width="1" height="6" fill="#ffffff"/>
<rect x="358" y="208" width="1" height="21" fill="#00ff00"/>
<rect x="357" y="222" width="3" height="4" fill="#00ff00"/>
<rect x="358" y="223" width="1" height="2" fill="#000000"/>
<rect x="362" y="225" width="1" height="59" fill="#00ff00"/>
<rect x="361" y="227" width="3" height="49" fill="#00ff00"/>
<rect x="362" y="228" width="1" height="47" fill="#ffffff"/>
<rect x="366" y="270" width="1" height="39" fill="#00ff00"/>
<rect x="365" y="275" width="3" height="24" fill="#00ff00"/>
<rect x="366" y="276" width="1" height="22" fill="#ffffff"/>
<rect x="370" y="242" width="1" height="67" fill="#00ff00"/>
<rect x="369" y="248" width="3" height="51" fill="#00ff00"/>
<rect x="370" y="249" width="1" height="49" fill="#000000"/>
<rect x="374" y="242" width="1" height="52" fill="#00ff00"/>
<rect x="373" y="248" width="3" height="35" fill="#00ff00"/>
<rect x="374" y="249" width="1" height="33" fill="#ffffff"/>
<rect x="378" y="278" width="1" height="19" fill="#00ff00"/>
<rect x="377" y="281" width="3" height="14" fill="#00ff00"/>
<rect x="378" y="282" width="1" height="12" fill="#ffffff"/>
<rect x="382" y="291" width="1" height="9" fill="#00ff00"/>
<rect x="381" y="294" width="3" height="3" fill="#00ff00"/>
<rect x="382" y="295" width="1" height="1" fill="#ffffff"/>
<rect x="386" y="286" width="1" height="17" fill="#00ff00"/>
<rect x="385" y="294" width="3" height="8" fill="#00ff00"/>
<rect x="386" y="295" width="1" height="6" fill="#ffffff"/>
<rect x="390" y="299" width="1" height="15" fill="#00ff00"/>
<rect x="389" y="302" width="3" height="1" fill="#00ff00"/>
<rect x="394" y="298" width="1" height="11" fill="#00ff00"/>
<rect x="393" y="298" width="3" height="7" fill="#00ff00"/>
<rect x="394" y="299" width="1" height="5" fill="#000000"/>
<rect x="398" y="297" width="1" height="8" fill="#00ff00"/>
<rect x="397" y="299" width="3" height="5" fill="#00ff00"/>
<rect x="398" y="300" width="1" height="3" fill="#000000"/>
<rect x="402" y="298" width="1" height="5" fill="#00ff00"/>
<rect x="401" y="300" width="3" height="3" fill="#00ff00"/>
<rect x="402" y="301" width="1" height="1" fill="#ffffff"/>
<rect x="406" y="291" width="1" height="14" fill="#00ff00"/>
<rect x="405" y="295" width="3" height="9" fill="#00ff00"/>
<rect x="406" y="296" width="1" height="7" fill="#000000"/>
<rect x="410" y="296" width="1" height="15" fill="#00ff00"/>
<rect x="409" y="297" width="3" height="3" fill="#00ff00"/>
<rect x="410" y="298" width="1" height="1" fill="#ffffff"/>
<rect x="414" y="291" width="1" height="14" fill="#00ff00"/>
<rect x="413" y="293" width="3" height="6" fill="#00ff00"/>
<rect x="414" y="294" width="1" height="4" fill="#000000"/>
<rect x="418" y="280" width="1" height="19" fill="#00ff00"/>
<rect x="417" y="282" width="3" height="13" fill="#00ff00"/>
<rect x="418" y="283" width="1" height="11" fill="#000000"/>
<rect x="422" y="276" width="1" height="8" fill="#00ff00"/>
<rect x="421" y="280" width="3" height="3" fill="#00ff00"/>
<rect x="422" y="281" width="1" height="1" fill="#000000"/>
<rect x="426" y="273" width="1" height="10" fill="#00ff00"/>
<rect x="425" y="277" width="3" height="4" fill="#00ff00"/>
<rect x="426" y="278" width="1" height="2" fill="#000000"/>
<rect x="430" y="270" width="1" height="9" fill="#00ff00"/>
<rect x="429" y="274" width="3" height="5" fill="#00ff00"/>
<rect x="430" y="275" width="1" height="3" fill="#000000"/>
<rect x="434" y="266" width="1" height="19" fill="#00ff00"/>
<rect x="433" y="268" width="3" height="8" fill="#00ff00"/>
<rect x="434" y="269" width="1" height="6" fill="#000000"/>
<rect x="438" y="255" width="1" height="25" fill="#00ff00"/>
<rect x="437" y="266" width="3" height="7" fill="#00ff00"/>
<rect x="438" y="267" width="1" height="5" fill="#ffffff"/>
<rect x="442" y="272" width="1" height="40" fill="#00ff00"/>
<rect x="441" y="273" width="3" height="39" fill="#00ff00"/>
<rect x="442" y="274" width="1" height="37" fill="#ffffff"/>
<rect x="446" y="291" width="1" height="22" fill="#00ff00"/>
<rect x="445" y="296" width="3" height="16" fill="#00ff00"/>
<rect x="446" y="297" width="1" height="14" fill="#000000"/>
<rect x="450" y="283" width="1" height="20" fill="#00ff00"/>
<rect x="449" y="296" width="3" height="3" fill="#00ff00"/>
<rect x="450" y="297" width="1" height="1" fill="#ffffff"/>
<rect x="454" y="266" width="1" height="36" fill="#00ff00"/>
<rect x="453" y="270" width="3" height="28" fill="#00ff00"/>
<rect x="454" y="271" width="1" height="26" fill="#000000"/>
<rect x="458" y="262" width="1" height="19" fill="#00ff00"/>
<rect x="457" y="269" width="3" height="4" fill="#00ff00"/>
<rect x="458" y="270" width="1" height="2" fill="#000000"/>
<rect x="462" y="266" width="1" height="34" fill="#00ff00"/>
<rect x="461" y="269" width="3" height="18" fill="#00ff00"/>
<rect x="462" y="270" width="1" height="16" fill="#ffffff"/>
<rect x="466" y="270" width="1" height="44" fill="#00ff00"/>
<rect x="465" y="282" width="3" height="25" fill="#00ff00"/>
<rect x="466" y="283" width="1" height="23" fill="#ffffff"/>
<rect x="470" y="287" width="1" height="22" fill="#00ff00"/>
<rect x="469" y="299" width="3" height="9" fill="#00ff00"/>
<rect x="470" y="300" width="1" height="7" fill="#000000"/>
<rect x="474" y="287" width="1" height="14" fill="#00ff00"/>
<rect x="473" y="296" width="3" height="5" fill="#00ff00"/>
<rect x="474" y="297" width="1" height="3" fill="#000000"/>
<rect x="478" y="291" width="1" height="15" fill="#00ff00"/>
<rect x="477" y="296" width="3" height="9" fill="#00ff00"/>
<rect x="478" y="297" width="1" height="7" fill="#ffffff"/>
<rect x="482" y="291" width="1" height="20" fill="#00ff00"/>
<rect x="481" y="300" width="3" height="5" fill="#00ff00"/>
<rect x="482" y="301" width="1" height="3" fill="#000000"/>
<rect x="486" y="297" width="1" height="12" fill="#00ff00"/>
<rect x="485" y="300" width="3" height="8" fill="#00ff00"/>
<rect x="486" y="301" width="1" height="6" fill="#ffffff"/>
<rect x="490" y="299" width="1" height="12" fill="#00ff00"/>
<rect x="489" y="302" width="3" height="7" fill="#00ff00"/>
<rect x="490" y="303" width="1" height="5" fill="#000000"/>
<rect x="494" y="300" width="1" height="9" fill="#00ff00"/>
<rect x="493" y="303" width="3" height="5" fill="#00ff00"/>
<rect x="494" y="304" width="1" height="3" fill="#000000"/>
<rect x="498" y="301" width="1" height="14" fill="#00ff00"/>
<rect x="497" y="303" width="3" height="3" fill="#00ff00"/>
<rect x="498" y="304" width="1" height="1" fill="#000000"/>
<rect x="502" y="301" width="1" height="6" fill="#00ff00"/>
<rect x="501" y="303" width="3" height="2" fill="#00ff00"/>
<rect x="506" y="288" width="1" height="17" fill="#00ff00"/>
<rect x="505" y="291" width="3" height="14" fill="#00ff00"/>
<rect x="506" y="292" width="1" height="12" fill="#000000"/>
<rect x="510" y="288" width="1" height="15" fill="#00ff00"/>
<rect x="509" y="291" width="3" height="12" fill="#00ff00"/>
<rect x="510" y="292" width="1" height="10" fill="#000000"/>
<rect x="514" y="291" width="1" height="12" fill="#00ff00"/>
<rect x="513" y="292" width="3" height="11" fill="#00ff00"/>
<rect x="514" y="293" width="1" height="9" fill="#ffffff"/>
<rect x="518" y="298" width="1" height="8" fill="#00ff00"/>
<rect x="517" y="299" width="3" height="4" fill="#00ff00"/>
<rect x="518" y="300" width="1" height="2" fill="#000000"/>
<rect x="522" y="298" width="1" height="8" fill="#00ff00"/>
<rect x="521" y="300" width="3" height="5" fill="#00ff00"/>
<rect x="522" y="301" width="1" height="3" fill="#ffffff"/>
<rect x="526" y="302" width="1" height="33" fill="#00ff00"/>
<rect x="525" y="304" width="3" height="30" fill="#00ff00"/>
<rect x="526" y="305" width="1" height="28" fill="#ffffff"/>
<rect x="530" y="332" width="1" height="33" fill="#00ff00"/>
<rect x="529" y="332" width="3" height="27" fill="#00ff00"/>
<rect x="530" y="333" width="1" height="25" fill="#ffffff"/>
<rect x="534" y="331" width="1" height="31" fill="#00ff00"/>
<rect x="533" y="333" width="3" height="28" fill="#00ff00"/>
<rect x="534" y="334" width="1" height="26" fill="#000000"/>
<rect x="538" y="316" width="1" height="32" fill="#00ff00"/>
<rect x="537" y="324" width="3" height="13" fill="#00ff00"/>
<rect x="538" y="325" width="1" height="11" fill="#000000"/>
<rect x="542" y="322" width="1" height="16" fill="#00ff00"/>
<rect x="541" y="323" width="3" height="14" fill="#00ff00"/>
<rect x="542" y="324" width="1" height="12" fill="#ffffff"/>
<rect x="546" y="309" width="1" height="33" fill="#00ff00"/>
<rect x="545" y="322" width="3" height="15" fill="#00ff00"/>
<rect x="546" y="323" width="1" height="13" fill="#000000"/>
<rect x="550" y="308" width="1" height="20" fill="#00ff00"/>
<rect x="549" y="316" width="3" height="10" fill="#00ff00"/>
<rect x="550" y="317" width="1" height="8" fill="#000000"/>
<rect x="554" y="316" width="1" height="26" fill="#00ff00"/>
<rect x="553" y="316" width="3" height="6" fill="#00ff00"/>
<rect x="554" y="317" width="1" height="4" fill="#ffffff"/>
<rect x="558" y="296" width="1" height="29" fill="#00ff00"/>
<rect x="557" y="306" width="3" height="15" fill="#00ff00"/>
<rect x="558" y="307" width="1" height="13" fill="#000000"/>
<rect x="562" y="293" width="1" height="27" fill="#00ff00"/>
<rect x="561" y="306" width="3" height="2" fill="#00ff00"/>
<rect x="566" y="301" width="1" height="12" fill="#00ff00"/>
<rect x="565" y="305" width="3" height="5" fill="#00ff00"/>
<rect x="566" y="306" width="1" height="3" fill="#000000"/>
<rect x="570" y="303" width="1" height="10" fill="#00ff00"/>
<rect x="569" y="305" width="3" height="6" fill="#00ff00"/>
<rect x="570" y="306" width="1" height="4" fill="#ffffff"/>
<rect x="574" y="304" width="1" height="10" fill="#00ff00"/>
<rect x="573" y="310" width="3" height="4" fill="#00ff00"/>
<rect x="574" y="311" width="1" height="2" fill="#ffffff"/>
<rect x="578" y="312" width="1" height="14" fill="#00ff00"/>
<rect x="577" y="313" width="3" height="11" fill="#00ff00"/>
<rect x="578" y="314" width="1" height="9" fill="#ffffff"/>
<rect x="582" y="320" width="1" height="8" fill="#00ff00"/>
<rect x="581" y="322" width="3" height="5" fill="#00ff00"/>
<rect x="582" y="323" width="1" height="3" fill="#ffffff"/>
<rect x="586" y="325" width="1" height="19" fill="#00ff00"/>
<rect x="585" y="327" width="3" height="9" fill="#00ff00"/>
<rect x="586" y="328" width="1" height="7" fill="#ffffff"/>
<rect x="590" y="327" width="1" height="23" fill="#00ff00"/>
<rect x="589" y="335" width="3" height="3" fill="#00ff00"/>
<rect x="590" y="336" width="1" height="1" fill="#ffffff"/>
<rect x="594" y="328" width="1" height="12" fill="#00ff00"/>
<rect x="593" y="329" width="3" height="11" fill="#00ff00"/>
<rect x="594" y="330" width="1" height="9" fill="#000000"/>
<rect x="598" y="322" width="1" height="10" fill="#00ff00"/>
<rect x="597" y="328" width="3" height="4" fill="#00ff00"/>
<rect x="598" y="329" width="1" height="2" fill="#000000"/>
<rect x="602" y="323" width="1" height="13" fill="#00ff00"/>
<rect x="601" y="327" width="3" height="4" fill="#00ff00"/>
<rect x="602" y="328" width="1" height="2" fill="#000000"/>
<rect x="606" y="326" width="1" height="24" fill="#00ff00"/>
<rect x="605" y="327" width="3" height="21" fill="#00ff00"/>
<rect x="606" y="328" width="1" height="19" fill="#ffffff"/>
<rect x="610" y="346" width="1" height="12" fill="#00ff00"/>
<rect x="609" y="347" width="3" height="3" fill="#00ff00"/>
<rect x="610" y="348" width="1" height="1" fill="#ffffff"/>
<rect x="614" y="343" width="1" height="13" fill="#00ff00"/>
<rect x="613" y="347" width="3" height="3" fill="#00ff00"/>
<rect x="614" y="348" width="1" height="1" fill="#000000"/>
<rect x="618" y="343" width="1" height="14" fill="#00ff00"/>
<rect x="617" y="346" width="3" height="10" fill="#00ff00"/>
<rect x="618" y="347" width="1" height="8" fill="#ffffff"/>
<rect x="622" y="343" width="1" height="27" fill="#00ff00"/>
<rect x="621" y="346" width="3" height="11" fill="#00ff00"/>
<rect x="622" y="347" width="1" height="9" fill="#000000"/>
<rect x="626" y="326" width="1" height="32" fill="#00ff00"/>
<rect x="625" y="329" width="3" height="19" fill="#00ff00"/>
<rect x="626" y="330" width="1" height="17" fill="#000000"/>
</g>
<g shape-rendering="crispEdges" fill="#c0c0c0">
<rect x="6" y="498" width="1" height="27"/>
<rect x="10" y="497" width="1" height="28"/>
<rect x="14" y="496" width="1" height="29"/>
<rect x="18" y="496" width="1" height="29"/>
<rect x="22" y="496" width="1" height="29"/>
<rect x="26" y="496" width="1" height="29"/>
<rect x="30" y="496" width="1" height="29"/>
<rect x="34" y="496" width="1" height="29"/>
<rect x="38" y="496" width="1" height="29"/>
<rect x="42" y="496" width="1" height="29"/>
<rect x="46" y="496" width="1" height="29"/>
<rect x="50" y="496" width="1" height="29"/>
<rect x="54" y="498" width="1" height="27"/>
<rect x="58" y="500" width="1" height="25"/>
<rect x="62" y="503" width="1" height="22"/>
<rect x="66" y="505" width="1" height="20"/>
<rect x="70" y="506" width="1" height="19"/>
<rect x="74" y="508" width="1" height="17"/>
<rect x="78" y="510" width="1" height="15"/>
<rect x="82" y="512" width="1" height="13"/>
<rect x="86" y="515" width="1" height="10"/>
<rect x="90" y="517" width="1" height="8"/>
<rect x="94" y="518" width="1" height="7"/>
<rect x="98" y="520" width="1" height="5"/>
<rect x="102" y="519" width="1" height="6"/>
<rect x="106" y="520" width="1" height="5"/>
<rect x="110" y="521" width="1" height="4"/>
<rect x="114" y="520" width="1" height="5"/>
<rect x="118" y="520" width="1" height="5"/>
<rect x="122" y="521" width="1" height="4"/>
<rect x="126" y="520" width="1" height="5"/>
<rect x="130" y="519" width="1" height="6"/>
<rect x="134" y="520" width="1" height="5"/>
<rect x="138" y="520" width="1" height="5"/>
<rect x="142" y="519" width="1" height="6"/>
<rect x="146" y="519" width="1" height="6"/>
<rect x="150" y="517" width="1" height="8"/>
<rect x="154" y="516" width="1" height="9"/>
<rect x="158" y="514" width="1" height="11"/>
<rect x="162" y="511" width="1" height="14"/>
<rect x="166" y="509" width="1" height="16"/>
<rect x="170" y="506" width="1" height="19"/>
<rect x="174" y="501" width="1" height="24"/>
<rect x="178" y="498" width="1" height="27"/>
<rect x="182" y="494" width="1" height="31"/>
<rect x="186" y="492" width="1" height="33"/>
<rect x="190" y="490" width="1" height="35"/>
<rect x="194" y="488" width="1" height="37"/>
<rect x="198" y="489" width="1" height="36"/>
<rect x="202" y="489" width="1" height="36"/>
<rect x="206" y="489" width="1" height="36"/>
<rect x="210" y="489" width="1" height="36"/>
<rect x="214" y="489" width="1" height="36"/>
<rect x="218" y="491" width="1" height="34"/>
<rect x="222" y="493" width="1" height="32"/>
<rect x="226" y="494" width="1" height="31"/>
<rect x="230" y="499" width="1" height="26"/>
<rect x="234" y="499" width="1" height="26"/>
<rect x="238" y="499" width="1" height="26"/>
<rect x="242" y="503" width="1" height="22"/>
<rect x="246" y="507" width="1" height="18"/>
<rect x="250" y="514" width="1" height="11"/>
<rect x="254" y="523" width="1" height="2"/>
<rect x="258" y="524" width="1" height="2"/>
<rect x="262" y="524" width="1" height="14"/>
<rect x="266" y="524" width="1" height="16"/>
<rect x="270" y="524" width="1" height="17"/>
<rect x="274" y="524" width="1" height="16"/>
<rect x="278" y="524" width="1" height="17"/>
<rect x="282" y="524" width="1" height="21"/>
<rect x="286" y="524" width="1" height="24"/>
<rect x="290" y="524" width="1" height="26"/>
<rect x="294" y="524" width="1" height="25"/>
<rect x="298" y="524" width="1" height="25"/>
<rect x="302" y="524" width="1" height="26"/>
<rect x="306" y="524" width="1" height="26"/>
<rect x="310" y="524" width="1" height="25"/>
<rect x="314" y="524" width="1" height="24"/>
<rect x="318" y="524" width="1" height="23"/>
<rect x="322" y="524" width="1" height="22"/>
<rect x="326" y="524" width="1" height="22"/>
<rect x="330" y="524" width="1" height="20"/>
<rect x="334" y="524" width="1" height="21"/>
<rect x="338" y="524" width="1" height="26"/>
<rect x="342" y="524" width="1" height="26"/>
<rect x="346" y="524" width="1" height="23"/>
<rect x="350" y="524" width="1" height="22"/>
<rect x="354" y="524" width="1" height="21"/>
<rect x="358" y="524" width="1" height="20"/>
<rect x="362" y="524" width="1" height="26"/>
<rect x="366" y="524" width="1" height="34"/>
<rect x="370" y="524" width="1" height="33"/>
<rect x="374" y="524" width="1" height="37"/>
<rect x="378" y="524" width="1" height="41"/>
<rect x="382" y="524" width="1" height="43"/>
<rect x="386" y="524" width="1" height="46"/>
<rect x="390" y="524" width="1" height="48"/>
<rect x="394" y="524" width="1" height="48"/>
<rect x="398" y="524" width="1" height="48"/>
<rect x="402" y="524" width="1" height="48"/>
<rect x="406" y="524" width="1" height="45"/>
<rect x="410" y="524" width="1" height="44"/>
<rect x="414" y="524" width="1" height="42"/>
<rect x="418" y="524" width="1" height="37"/>
<rect x="422" y="524" width="1" height="35"/>
<rect x="426" y="524" width="1" height="31"/>
<rect x="430" y="524" width="1" height="28"/>
<rect x="434" y="524" width="1" height="23"/>
<rect x="438" y="524" width="1" height="21"/>
<rect x="442" y="524" width="1" height="23"/>
<rect x="446" y="524" width="1" height="24"/>
<rect x="450" y="524" width="1" height="21"/>
<rect x="454" y="524" width="1" height="19"/>
<rect x="458" y="524" width="1" height="16"/>
<rect x="462" y="524" width="1" height="15"/>
<rect x="466" y="524" width="1" height="17"/>
<rect x="470" y="524" width="1" height="18"/>
<rect x="474" y="524" width="1" height="18"/>
<rect x="478" y="524" width="1" height="18"/>
<rect x="482" y="524" width="1" height="17"/>
<rect x="486" y="524" width="1" height="19"/>
<rect x="490" y="524" width="1" height="17"/>
<rect x="494" y="524" width="1" height="18"/>
<rect x="498" y="524" width="1" height="17"/>
<rect x="502" y="524" width="1" height="17"/>
<rect x="506" y="524" width="1" height="15"/>
<rect x="510" y="524" width="1" height="13"/>
<rect x="514" y="524" width="1" height="15"/>
<rect x="518" y="524" width="1" height="12"/>
<rect x="522" y="524" width="1" height="12"/>
<rect x="526" y="524" width="1" height="15"/>
<rect x="530" y="524" width="1" height="23"/>
<rect x="534" y="524" width="1" height="24"/>
<rect x="538" y="524" width="1" height="24"/>
<rect x="542" y="524" width="1" height="25"/>
<rect x="546" y="524" width="1" height="23"/>
<rect x="550" y="524" width="1" height="21"/>
<rect x="554" y="524" width="1" height="21"/>
<rect x="558" y="524" width="1" height="19"/>
<rect x="562" y="524" width="1" height="14"/>
<rect x="566" y="524" width="1" height="12"/>
<rect x="570" y="524" width="1" height="11"/>
<rect x="574" y="524" width="1" height="12"/>
<rect x="578" y="524" width="1" height="11"/>
<rect x="582" y="524" width="1" height="9"/>
<rect x="586" y="524" width="1" height="11"/>
<rect x="590" y="524" width="1" height="14"/>
<rect x="594" y="524" width="1" height="15"/>
<rect x="598" y="524" width="1" height="14"/>
<rect x="602" y="524" width="1" height="14"/>
<rect x="606" y="524" width="1" height="16"/>
<rect x="610" y="524" width="1" height="17"/>
<rect x="614" y="524" width="1" height="18"/>
<rect x="618" y="524" width="1" height="21"/>
<rect x="622" y="524" width="1" height="20"/>
<rect x="626" y="524" width="1" height="18"/>
</g>
<polyline points="3.5,510.5 10.5,505.5 20.5,500.5 30.5,497.5 40.5,496.5 50.5,496.5 60.5,498.5 70.5,500.5 80.5,504.5 90.5,509.5 100.5,513.5 110.5,517.5 120.5,520.1 130.5,520.5 140.5,520.5 150.5,520.5 160.5,519.0 170.5,516.5 180.5,511.5 190.5,503.5 200.5,495.5 210.5,491.5 220.5,490.1 230.5,491.5 240.5,495.5 250.5,500.5 260.5,512.5 270.5,523.5 280.5,532.5 290.5,540.5 300.5,544.5 310.5,546.5 320.5,548.1 330.5,546.5 340.5,546.1 350.5,546.1 356.5,544.9 362.5,546.1 370.5,548.5 380.5,552.5 390.5,559.5 400.5,565.5 410.5,568.5 416.5,568.5 420.5,566.5 430.5,562.5 440.5,555.5 450.5,549.5 460.5,544.5 470.5,542.9 480.5,541.5 490.5,540.5 500.5,540.5 510.5,539.5 520.5,538.5 526.5,538.1 532.5,538.9 540.5,540.5 546.5,541.5 554.5,544.1 560.5,544.1 566.5,542.5 572.5,540.1 578.5,538.1 584.5,536.1 590.5,534.9 596.5,534.9 602.5,536.1 608.5,536.5 614.5,538.1 620.5,539.5 626.5,540.5" fill="none" stroke="#ff0000" stroke-width="1" stroke-dasharray="3 3" shape-rendering="crispEdges"/>
<g stroke="#ffffff" stroke-width="1" shape-rendering="crispEdges">
<line x1="166.5" y1="81.5" x2="641.5" y2="307.7"/>
<line x1="166.5" y1="139.0" x2="641.5" y2="365.2"/>
<line x1="166.5" y1="196.5" x2="641.5" y2="422.7"/>
</g>
<g shape-rendering="crispEdges">
<rect x="3" y="5" width="744" height="2" fill="#ff0000"/>
<rect x="3" y="32" width="744" height="2" fill="#ff0000"/>
<rect x="3" y="59" width="744" height="2" fill="#ff0000"/>
<rect x="3" y="87" width="744" height="2" fill="#ff0000"/>
<rect x="3" y="118" width="744" height="2" fill="#ff0000"/>
<rect x="3" y="149" width="744" height="2" fill="#ff0000"/>
<rect x="3" y="171" width="744" height="2" fill="#ff0000"/>
<rect x="3" y="191" width="744" height="2" fill="#ff0000"/>
<rect x="3" y="215" width="744" height="2" fill="#ff0000"/>
<rect x="3" y="240" width="744" height="2" fill="#ff0000"/>
<rect x="3" y="264" width="744" height="2" fill="#ff0000"/>
<rect x="3" y="289" width="744" height="2" fill="#ff0000"/>
<rect x="3" y="314" width="744" height="2" fill="#ff0000"/>
<rect x="3" y="337" width="744" height="2" fill="#ff0000"/>
<rect x="3" y="365" width="744" height="2" fill="#00ffff"/>
<rect x="3" y="396" width="744" height="2" fill="#00ffff"/>
<rect x="3" y="426" width="744" height="2" fill="#00ffff"/>
<rect x="3" y="453" width="744" height="2" fill="#00ffff"/>
<rect x="3" y="475" width="744" height="2" fill="#00ffff"/>
<rect x="3" y="329" width="744" height="1" fill="#778899"/>
</g>
<g font-family="Liberation Serif, serif" font-size="18px">
<text x="229.0" y="107.5" fill="#ffff00" stroke="#ffff00" stroke-width="0.45" textLength="17.2" lengthAdjust="spacingAndGlyphs" style="font-family:'Liberation Serif',serif">(c)</text>
<text x="344.8" y="191.5" fill="#ffffff" stroke="#ffffff" stroke-width="0.45" textLength="18.5" lengthAdjust="spacingAndGlyphs" style="font-family:'Liberation Serif',serif">(ii)</text>
<text x="335.5" y="279.0" fill="#ffffff" stroke="#ffffff" stroke-width="0.45" textLength="14.2" lengthAdjust="spacingAndGlyphs" style="font-family:'Liberation Serif',serif">(i)</text>
<text x="522.8" y="381.5" fill="#ffffff" stroke="#ffffff" stroke-width="0.45" textLength="22.8" lengthAdjust="spacingAndGlyphs" style="font-family:'Liberation Serif',serif">(iii)</text>
<text x="551.0" y="283.5" fill="#ffffff" stroke="#ffffff" stroke-width="0.45" textLength="22.0" lengthAdjust="spacingAndGlyphs" style="font-family:'Liberation Serif',serif">(iv)</text>
<text x="684.8" y="457.0" fill="#ffffff" stroke="#ffffff" stroke-width="0.45" textLength="18.5" lengthAdjust="spacingAndGlyphs" style="font-family:'Liberation Serif',serif">(v)</text>
</g>
<g fill="none" stroke="#00ffff" stroke-width="2" stroke-linejoin="miter">
<polygon points="650,292.6 657.6,298.8 653.3,298.8 653.3,310.8 646.7,310.8 646.7,298.8 642.4,298.8"/>
<polygon points="650,387.6 657.6,380 653.3,380 653.3,367.8 646.7,367.8 646.7,380 642.4,380"/>
</g>
<g shape-rendering="crispEdges" fill="none" stroke="#fff" stroke-width="1">
<rect x="2.5" y="2.5" width="745" height="476"/>
<rect x="2.5" y="481.5" width="745" height="98"/>
<line x1="747" y1="28.5" x2="752" y2="28.5"/>
<line x1="747" y1="60.5" x2="752" y2="60.5"/>
<line x1="747" y1="92.5" x2="752" y2="92.5"/>
<line x1="747" y1="125.5" x2="752" y2="125.5"/>
<line x1="747" y1="157.5" x2="752" y2="157.5"/>
<line x1="747" y1="189.5" x2="752" y2="189.5"/>
<line x1="747" y1="221.5" x2="752" y2="221.5"/>
<line x1="747" y1="253.5" x2="752" y2="253.5"/>
<line x1="747" y1="285.5" x2="752" y2="285.5"/>
<line x1="747" y1="317.5" x2="752" y2="317.5"/>
<line x1="747" y1="349.5" x2="752" y2="349.5"/>
<line x1="747" y1="382.5" x2="752" y2="382.5"/>
<line x1="747" y1="414.5" x2="752" y2="414.5"/>
<line x1="747" y1="446.5" x2="752" y2="446.5"/>
<line x1="747" y1="578.5" x2="752" y2="578.5"/>
<line x1="747" y1="481.5" x2="752" y2="481.5"/>
<line x1="2.5" y1="579" x2="2.5" y2="584"/>
<line x1="66.5" y1="579" x2="66.5" y2="584"/>
<line x1="130.5" y1="579" x2="130.5" y2="584"/>
<line x1="194.5" y1="579" x2="194.5" y2="584"/>
<line x1="258.5" y1="579" x2="258.5" y2="584"/>
<line x1="322.5" y1="579" x2="322.5" y2="584"/>
<line x1="386.5" y1="579" x2="386.5" y2="584"/>
<line x1="450.5" y1="579" x2="450.5" y2="584"/>
<line x1="514.5" y1="579" x2="514.5" y2="584"/>
<line x1="578.5" y1="579" x2="578.5" y2="584"/>
</g>
<g fill="#fff" font-size="10.4px" stroke="#fff" stroke-width="0.25">
<text x="753.3" y="31.5" textLength="31.5" lengthAdjust="spacingAndGlyphs">1.40070</text>
<text x="753.3" y="63.5" textLength="31.5" lengthAdjust="spacingAndGlyphs">1.39750</text>
<text x="753.3" y="95.5" textLength="31.5" lengthAdjust="spacingAndGlyphs">1.39430</text>
<text x="753.3" y="128.5" textLength="31.5" lengthAdjust="spacingAndGlyphs">1.39110</text>
<text x="753.3" y="160.5" textLength="31.5" lengthAdjust="spacingAndGlyphs">1.38790</text>
<text x="753.3" y="192.5" textLength="31.5" lengthAdjust="spacingAndGlyphs">1.38470</text>
<text x="753.3" y="224.5" textLength="31.5" lengthAdjust="spacingAndGlyphs">1.38150</text>
<text x="753.3" y="256.5" textLength="31.5" lengthAdjust="spacingAndGlyphs">1.37830</text>
<text x="753.3" y="288.5" textLength="31.5" lengthAdjust="spacingAndGlyphs">1.37510</text>
<text x="753.3" y="320.5" textLength="31.5" lengthAdjust="spacingAndGlyphs">1.37190</text>
<text x="753.3" y="352.5" textLength="31.5" lengthAdjust="spacingAndGlyphs">1.36870</text>
<text x="753.3" y="385.5" textLength="31.5" lengthAdjust="spacingAndGlyphs">1.36550</text>
<text x="753.3" y="417.5" textLength="31.5" lengthAdjust="spacingAndGlyphs">1.36230</text>
<text x="753.3" y="449.5" textLength="31.5" lengthAdjust="spacingAndGlyphs">1.35910</text>
</g>
<rect x="750" y="324" width="39" height="11" fill="#778899"/><text x="753.3" y="333.0" fill="#000" stroke="#000" stroke-width="0.3" font-size="10.4px" textLength="31.5" lengthAdjust="spacingAndGlyphs">1.37070</text>
<rect x="750" y="1" width="39" height="11" fill="#ff0000"/><text x="753.3" y="10.0" fill="#000" stroke="#000" stroke-width="0.3" font-size="10.4px" textLength="31.5" lengthAdjust="spacingAndGlyphs">1.40286</text>
<rect x="750" y="28" width="39" height="11" fill="#ff0000"/><text x="753.3" y="37.0" fill="#000" stroke="#000" stroke-width="0.3" font-size="10.4px" textLength="31.5" lengthAdjust="spacingAndGlyphs">1.40022</text>
<rect x="750" y="55" width="39" height="11" fill="#ff0000"/><text x="753.3" y="64.0" fill="#000" stroke="#000" stroke-width="0.3" font-size="10.4px" textLength="31.5" lengthAdjust="spacingAndGlyphs">1.39748</text>
<rect x="750" y="83" width="39" height="11" fill="#ff0000"/><text x="753.3" y="92.0" fill="#000" stroke="#000" stroke-width="0.3" font-size="10.4px" textLength="31.5" lengthAdjust="spacingAndGlyphs">1.39475</text>
<rect x="750" y="114" width="39" height="11" fill="#ff0000"/><text x="753.3" y="123.0" fill="#000" stroke="#000" stroke-width="0.3" font-size="10.4px" textLength="31.5" lengthAdjust="spacingAndGlyphs">1.39168</text>
<rect x="750" y="145" width="39" height="11" fill="#ff0000"/><text x="753.3" y="154.0" fill="#000" stroke="#000" stroke-width="0.3" font-size="10.4px" textLength="31.5" lengthAdjust="spacingAndGlyphs">1.38861</text>
<rect x="750" y="167" width="39" height="11" fill="#ff0000"/><text x="753.3" y="176.0" fill="#000" stroke="#000" stroke-width="0.3" font-size="10.4px" textLength="31.5" lengthAdjust="spacingAndGlyphs">1.38639</text>
<rect x="750" y="187" width="39" height="11" fill="#ff0000"/><text x="753.3" y="196.0" fill="#000" stroke="#000" stroke-width="0.3" font-size="10.4px" textLength="31.5" lengthAdjust="spacingAndGlyphs">1.38435</text>
<rect x="750" y="211" width="39" height="11" fill="#ff0000"/><text x="753.3" y="220.0" fill="#000" stroke="#000" stroke-width="0.3" font-size="10.4px" textLength="31.5" lengthAdjust="spacingAndGlyphs">1.38203</text>
<rect x="750" y="236" width="39" height="11" fill="#ff0000"/><text x="753.3" y="245.0" fill="#000" stroke="#000" stroke-width="0.3" font-size="10.4px" textLength="31.5" lengthAdjust="spacingAndGlyphs">1.37954</text>
<rect x="750" y="260" width="39" height="11" fill="#ff0000"/><text x="753.3" y="269.0" fill="#000" stroke="#000" stroke-width="0.3" font-size="10.4px" textLength="31.5" lengthAdjust="spacingAndGlyphs">1.37707</text>
<rect x="750" y="285" width="39" height="11" fill="#ff0000"/><text x="753.3" y="294.0" fill="#000" stroke="#000" stroke-width="0.3" font-size="10.4px" textLength="31.5" lengthAdjust="spacingAndGlyphs">1.37466</text>
<rect x="750" y="310" width="39" height="11" fill="#ff0000"/><text x="753.3" y="319.0" fill="#000" stroke="#000" stroke-width="0.3" font-size="10.4px" textLength="31.5" lengthAdjust="spacingAndGlyphs">1.37214</text>
<rect x="750" y="333" width="39" height="11" fill="#ff0000"/><text x="753.3" y="342.0" fill="#000" stroke="#000" stroke-width="0.3" font-size="10.4px" textLength="31.5" lengthAdjust="spacingAndGlyphs">1.36983</text>
<rect x="750" y="361" width="39" height="11" fill="#00ffff"/><text x="753.3" y="370.0" fill="#000" stroke="#000" stroke-width="0.3" font-size="10.4px" textLength="31.5" lengthAdjust="spacingAndGlyphs">1.36705</text>
<rect x="750" y="392" width="39" height="11" fill="#00ffff"/><text x="753.3" y="401.0" fill="#000" stroke="#000" stroke-width="0.3" font-size="10.4px" textLength="31.5" lengthAdjust="spacingAndGlyphs">1.36395</text>
<rect x="750" y="422" width="39" height="11" fill="#00ffff"/><text x="753.3" y="431.0" fill="#000" stroke="#000" stroke-width="0.3" font-size="10.4px" textLength="31.5" lengthAdjust="spacingAndGlyphs">1.36101</text>
<rect x="750" y="449" width="39" height="11" fill="#00ffff"/><text x="753.3" y="458.0" fill="#000" stroke="#000" stroke-width="0.3" font-size="10.4px" textLength="31.5" lengthAdjust="spacingAndGlyphs">1.35831</text>
<rect x="750" y="471" width="39" height="11" fill="#00ffff"/><text x="753.3" y="480.0" fill="#000" stroke="#000" stroke-width="0.3" font-size="10.4px" textLength="31.5" lengthAdjust="spacingAndGlyphs">1.35607</text>
<g fill="#fff" font-size="9.7px" stroke="#fff" stroke-width="0.25">
<text x="752.8" y="488.6" textLength="37" lengthAdjust="spacingAndGlyphs">0.002539</text>
<text x="752.8" y="526.6" textLength="37" lengthAdjust="spacingAndGlyphs">0.000000</text>
<text x="752.8" y="576.6" textLength="40" lengthAdjust="spacingAndGlyphs">-0.003206</text>
</g>
<g fill="#fff" font-size="10.4px" stroke="#fff" stroke-width="0.25">
<text x="2.5" y="592" textLength="44.5" lengthAdjust="spacingAndGlyphs">1 Apr 2021</text>
<text x="66.5" y="592" textLength="47.2" lengthAdjust="spacingAndGlyphs">2 Apr 10:00</text>
<text x="130.5" y="592" textLength="47.2" lengthAdjust="spacingAndGlyphs">5 Apr 02:00</text>
<text x="194.5" y="592" textLength="47.2" lengthAdjust="spacingAndGlyphs">5 Apr 18:00</text>
<text x="258.5" y="592" textLength="47.2" lengthAdjust="spacingAndGlyphs">6 Apr 10:00</text>
<text x="322.5" y="592" textLength="47.2" lengthAdjust="spacingAndGlyphs">7 Apr 02:00</text>
<text x="386.5" y="592" textLength="47.2" lengthAdjust="spacingAndGlyphs">7 Apr 18:00</text>
<text x="450.5" y="592" textLength="47.2" lengthAdjust="spacingAndGlyphs">8 Apr 10:00</text>
<text x="514.5" y="592" textLength="47.2" lengthAdjust="spacingAndGlyphs">9 Apr 02:00</text>
<text x="578.5" y="592" textLength="47.2" lengthAdjust="spacingAndGlyphs">9 Apr 18:00</text>
</g>
<text x="6" y="493" fill="#fff" stroke="#fff" stroke-width="0.25" font-size="10.4px" textLength="152" lengthAdjust="spacingAndGlyphs">MACD(12,26,9) -0.000930 -0.000901</text>
</svg></body></html>
